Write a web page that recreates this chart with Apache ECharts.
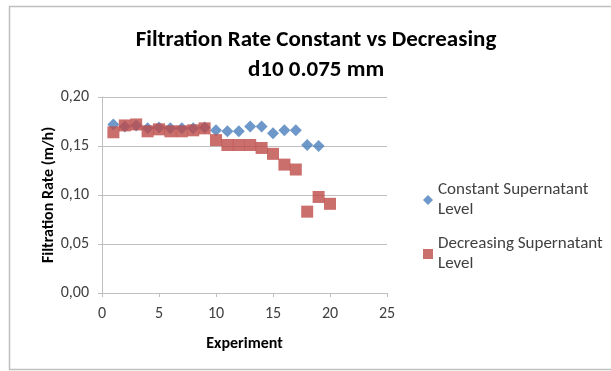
<!DOCTYPE html>
<html><head><meta charset="utf-8">
<script src="https://cdn.jsdelivr.net/npm/echarts@6/dist/echarts.min.js"></script>
<style>html,body{margin:0;padding:0;background:#fff}#c{width:611px;height:371px}</style>
</head><body><div id="c"></div>
<script>
const experiments = [1,2,3,4,5,6,7,8,9,10,11,12,13,14,15,16,17,18,19,20];
const constantLevel = [0.172,0.170,0.171,0.168,0.169,0.168,0.168,0.168,0.169,0.166,0.165,0.165,0.170,0.170,0.163,0.166,0.166,0.151,0.150,null];
const decreasingLevel = [0.164,0.171,0.172,0.165,0.167,0.165,0.165,0.166,0.168,0.156,0.151,0.151,0.151,0.148,0.142,0.131,0.126,0.083,0.098,0.091];
const titleLines = ['Filtration Rate Constant vs Decreasing', 'd10 0.075 mm'];
const seriesNames = ['Constant Supernatant\nLevel', 'Decreasing Supernatant\nLevel'];

const chart = echarts.init(document.getElementById('c'));
const font = 'Calibri, Carlito, "Open Sans", "Liberation Sans", sans-serif';
chart.setOption({
  animation: false,
  backgroundColor: '#fff',
  graphic: [{type:'rect', shape:{x:9.5,y:6.5,width:620,height:363}, style:{fill:'none', stroke:'#bfbfbf', lineWidth:1.5}}],
  title: {
    text: titleLines.join('\n'), left: 311, top: 20, textAlign: 'center',
    textStyle: {fontFamily: font, fontSize: 23, fontWeight: 'bold', color: '#000', lineHeight: 30}
  },
  legend: {
    orient: 'vertical', left: 418, top: 175, itemGap: 14, itemWidth: 10, itemHeight: 10,
    textStyle: {fontFamily: font, fontSize: 17, color: '#404040', lineHeight: 20},
    data: [{name: seriesNames[0], icon: 'diamond'}, {name: seriesNames[1], icon: 'rect'}]
  },
  grid: {left: 102, top: 97, width: 285, height: 196, containLabel: false},
  xAxis: {
    type: 'value', min: 0, max: 25, interval: 5,
    name: 'Experiment', nameLocation: 'middle', nameGap: 43,
    nameTextStyle: {fontFamily: font, fontSize: 16, fontWeight: 'bold', color: '#000'},
    axisLine: {show: true, lineStyle: {color: '#bfbfbf'}},
    axisTick: {show: true, length: 4, lineStyle: {color: '#bfbfbf'}},
    axisLabel: {fontFamily: font, fontSize: 16, color: '#404040', margin: 13},
    splitLine: {show: false}
  },
  yAxis: {
    type: 'value', min: 0, max: 0.2, interval: 0.05,
    name: 'Filtration Rate (m/h)', nameLocation: 'middle', nameGap: 44, nameRotate: 90,
    nameTextStyle: {fontFamily: font, fontSize: 16, fontWeight: 'bold', color: '#000'},
    axisLine: {show: true, lineStyle: {color: '#bfbfbf'}},
    axisTick: {show: true, length: 4, inside: false, lineStyle: {color: '#bfbfbf'}},
    axisLabel: {fontFamily: font, fontSize: 16, color: '#404040', margin: 13,
      formatter: v => v.toFixed(2).replace('.', ',')},
    splitLine: {show: true, lineStyle: {color: '#bfbfbf'}}
  },
  series: [
    {name: seriesNames[0], type: 'scatter', symbol: 'diamond', symbolSize: 12, z: 2,
     itemStyle: {color: '#4a7ebb'},
     data: experiments.map((x, i) => [x, constantLevel[i]]).filter(p => p[1] != null)},
    {name: seriesNames[1], type: 'scatter', symbol: 'rect', symbolSize: 12, z: 3,
     itemStyle: {color: '#be4b48'},
     data: experiments.map((x, i) => [x, decreasingLevel[i]])}
  ]
});
</script></body></html>
